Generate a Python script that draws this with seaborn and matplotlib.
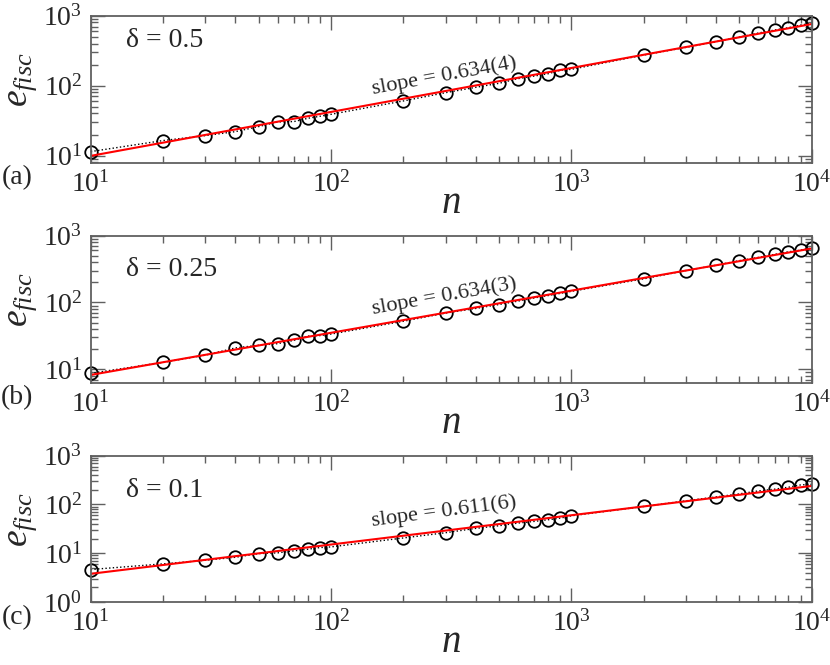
import pandas as pd
import seaborn as sns
import matplotlib.pyplot as plt
from matplotlib.ticker import NullFormatter

# system sizes
n_values = [10, 20, 30, 40, 50, 60, 70, 80, 90, 100,
            200, 300, 400, 500, 600, 700, 800, 900, 1000,
            2000, 3000, 4000, 5000, 6000, 7000, 8000, 9000, 10000]

# e_fisc, one list per panel
efisc_a = [11.4, 16.4, 19.3, 22.0, 26.0, 30.3, 30.6, 34.1, 36.5, 38.9,
           60.4, 79.4, 94.6, 108, 126, 137, 148, 166, 171,
           274, 353, 425, 495, 565, 624, 674, 736, 777]
efisc_b = [8.7, 12.7, 16.3, 20.9, 22.9, 24.2, 27.1, 31.4, 32.0, 33.7,
           52.4, 69.5, 81.5, 93.3, 105, 117, 127, 137, 147,
           226, 301, 361, 423, 473, 524, 574, 607, 658]
efisc_c = [4.64, 6.06, 7.19, 8.28, 9.84, 10.2, 11.2, 12.1, 13.1, 13.5,
           20.6, 26.4, 32.4, 36.7, 41.6, 45.0, 48.7, 52.6, 58.7,
           91.0, 119, 143, 165, 190, 206, 226, 252, 260]

# power-law fits (end points of the red lines)
fit_n = [10, 10000]
fit_a = [9.9, 760]
fit_b = [8.24, 643]
fit_c = [3.79, 240]

deltas = ["0.5", "0.25", "0.1"]
slopes = ["0.634(4)", "0.634(3)", "0.611(6)"]
tags = ["(a)", "(b)", "(c)"]
ylims = [(7.9, 1000), (6.3, 1000), (1, 1000)]

sns.set_style("ticks")
plt.rcParams["font.family"] = ["Liberation Serif", "DejaVu Serif"]
plt.rcParams["mathtext.fontset"] = "custom"
plt.rcParams["mathtext.rm"] = "Liberation Serif"
plt.rcParams["mathtext.it"] = "Liberation Serif:italic"

fig = plt.figure(figsize=(8.3, 6.65), dpi=100)
# axes boxes (left, bottom, width, height) in figure fractions
boxes = [(0.1093, 0.7553, 0.8687, 0.2211),
         (0.1093, 0.4245, 0.8687, 0.2211),
         (0.1093, 0.0947, 0.8687, 0.2200)]
delta_y = [0.828, 0.767, 0.759]
slope_y = [0.59, 0.59, 0.615]
slope_rot = [10.4, 10.1, 7.5]

series = [efisc_a, efisc_b, efisc_c]
fits = [fit_a, fit_b, fit_c]

for i in range(3):
    ax = fig.add_axes(boxes[i])
    ax.set_xscale("log")
    ax.set_yscale("log")

    df = pd.DataFrame({"n": n_values, "e": series[i]})
    sns.lineplot(data=df, x="n", y="e", ax=ax,
                 color="black", linestyle=":", linewidth=1.0,
                 marker="o", markersize=9, markerfacecolor="none",
                 markeredgecolor="black", markeredgewidth=1.3,
                 clip_on=False)

    df_fit = pd.DataFrame({"n": fit_n, "e": fits[i]})
    sns.lineplot(data=df_fit, x="n", y="e", ax=ax,
                 color="red", linewidth=1.5)

    ax.set_xlim(10, 10000)
    ax.set_ylim(*ylims[i])

    ax.tick_params(which="both", direction="in", top=True, right=True,
                   color="#606060", labelsize=20, pad=6)
    ax.tick_params(which="major", length=10, width=1.0)
    ax.tick_params(which="minor", length=5, width=1.0)
    ax.xaxis.set_minor_formatter(NullFormatter())
    ax.yaxis.set_minor_formatter(NullFormatter())
    for sp in ax.spines.values():
        sp.set_color("#606060")
        sp.set_linewidth(1.3)

    ax.set_xlabel("$n$", fontsize=28, labelpad=-9)
    ax.set_ylabel("$e_{fisc}$", fontsize=27)
    ax.yaxis.set_label_coords(-0.072, 0.565)

    ax.text(0.049, delta_y[i], "\u03b4 = " + deltas[i], transform=ax.transAxes,
            ha="left", va="center", fontsize=20)
    ax.text(0.49, slope_y[i], "slope = " + slopes[i], transform=ax.transAxes,
            ha="center", va="center", fontsize=16,
            rotation=slope_rot[i], rotation_mode="anchor")
    ax.text(-0.102, -0.104, tags[i], transform=ax.transAxes,
            ha="center", va="center", fontsize=20)

fig.savefig("out.png", dpi=100)
